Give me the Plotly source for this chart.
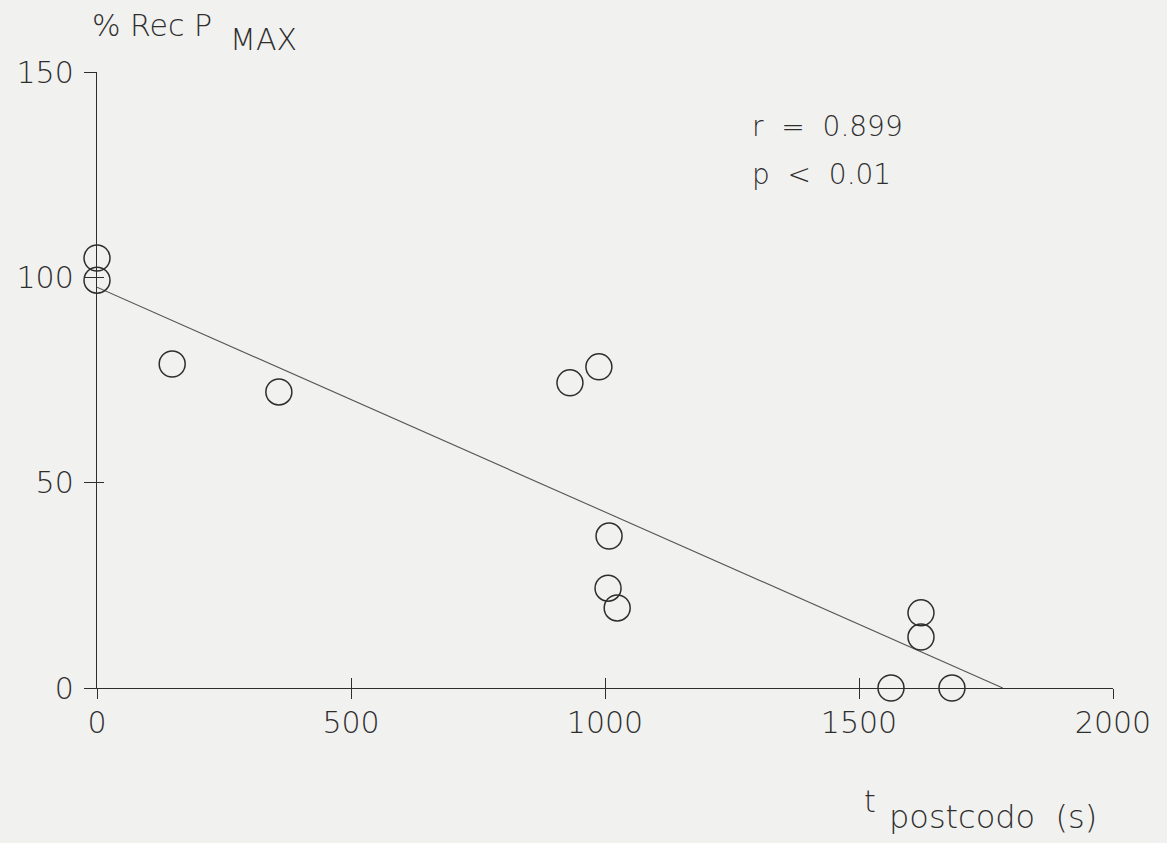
import plotly.graph_objects as go

# Data
t_postcodo = [0, 0, 148, 358, 931, 988, 1008, 1006, 1024, 1622, 1622, 1563, 1683]
rec_pmax = [104.7, 99.3, 78.9, 72.1, 74.3, 78.2, 37.0, 24.3, 19.5, 18.3, 12.4, 0.0, 0.0]

# Regression line end points
fit_x = [0, 1783]
fit_y = [97.6, 0]

x_ticks = [0, 500, 1000, 1500, 2000]
y_ticks = [0, 50, 100, 150]

FONT = "DejaVu Sans"
WEIGHT = 200
INK = "#2e2e2e"
BG = "#f1f1ef"

fig = go.Figure()

fig.add_trace(go.Scatter(
    x=fit_x, y=fit_y, mode="lines",
    line=dict(color="#555555", width=1.1),
    showlegend=False, hoverinfo="skip", cliponaxis=False,
))
fig.add_trace(go.Scatter(
    x=t_postcodo, y=rec_pmax, mode="markers",
    marker=dict(symbol="circle-open", size=26, color=INK, line=dict(width=1.5, color=INK)),
    showlegend=False, cliponaxis=False,
))
# dummy trace for the overlay axes that carry the inner half of the crossing ticks
fig.add_trace(go.Scatter(x=[None], y=[None], xaxis="x2", yaxis="y2",
                         showlegend=False, hoverinfo="skip"))

axis_common = dict(showgrid=False, zeroline=False, showline=True,
                   linecolor=INK, linewidth=1.4, tickcolor=INK, tickwidth=1.4)
tick_font = dict(size=30, family=FONT, color=INK, weight=WEIGHT)

fig.update_layout(
    width=1167, height=843,
    paper_bgcolor=BG, plot_bgcolor=BG,
    margin=dict(l=97, r=54, t=72, b=155),
    font=dict(family=FONT, color=INK, weight=WEIGHT),
    xaxis=dict(range=[0, 2000], tickvals=x_ticks, ticks="outside", ticklen=10,
               ticklabelstandoff=-2, tickfont=tick_font, **axis_common),
    yaxis=dict(range=[0, 150], tickvals=y_ticks, ticks="outside", ticklen=12,
               ticklabelstandoff=4, tickfont=tick_font, **axis_common),
    xaxis2=dict(range=[0, 2000], overlaying="x", anchor="y", side="bottom",
                tickvals=x_ticks, ticks="inside", ticklen=10, showticklabels=False,
                **axis_common),
    yaxis2=dict(range=[0, 150], overlaying="y", anchor="x", side="left",
                tickvals=y_ticks, ticks="inside", ticklen=7, showticklabels=False,
                **axis_common),
)

title_font = dict(family=FONT, size=30, color=INK, weight=WEIGHT)
label_font = dict(family=FONT, size=32, color=INK, weight=WEIGHT)
stat_font = dict(family=FONT, size=28, color=INK, weight=WEIGHT)

fig.add_annotation(text="% Rec P", xref="paper", yref="paper", x=-0.007, y=1.076,
                   xanchor="left", yanchor="middle", showarrow=False, font=title_font)
fig.add_annotation(text="MAX", xref="paper", yref="paper", x=0.129, y=1.052,
                   xanchor="left", yanchor="middle", showarrow=False, font=title_font)
fig.add_annotation(text="r  =  0.899", xref="paper", yref="paper", x=0.643, y=0.911,
                   xanchor="left", yanchor="middle", showarrow=False, font=stat_font)
fig.add_annotation(text="p  <  0.01", xref="paper", yref="paper", x=0.643, y=0.834,
                   xanchor="left", yanchor="middle", showarrow=False, font=stat_font)
fig.add_annotation(text="t", xref="paper", yref="paper", x=0.753, y=-0.185,
                   xanchor="left", yanchor="middle", showarrow=False, font=title_font)
fig.add_annotation(text="postcodo  (s)", xref="paper", yref="paper", x=0.778, y=-0.21,
                   xanchor="left", yanchor="middle", showarrow=False, font=label_font)

fig.write_html("out.html")
